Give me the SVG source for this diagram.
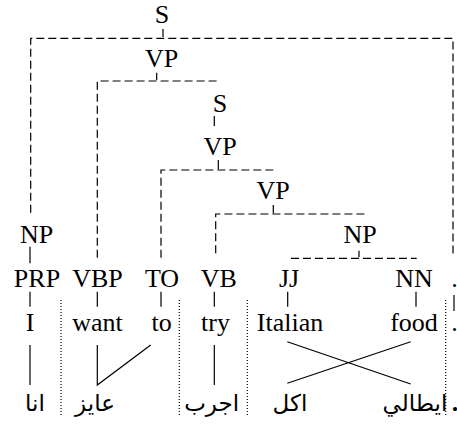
<svg xmlns="http://www.w3.org/2000/svg" width="457" height="426" viewBox="0 0 457 426">
<style>
.d{stroke:#000;stroke-width:1.2;fill:none;stroke-dasharray:8 4}
.s{stroke:#000;stroke-width:1.2;fill:none}
.o{stroke:#000;stroke-width:1.2;fill:none;stroke-dasharray:1 2}
.t{font-family:'Liberation Serif','Times New Roman',serif;font-size:26px;fill:#000;text-anchor:middle}
.ar{font-family:'DejaVu Sans',sans-serif;font-size:23px;fill:#000;text-anchor:middle}
</style>
<rect width="457" height="426" fill="#fff"/>
<g id="connectors">
<path class="s" d="M163 29V37M156.7 72.7V80M214.3 116V126M218.3 160V169.3M273.3 205V213.3M359 250.7V257.3M30 246.7V263.3"/>
<path class="d" d="M30.7 212.7V38.3H453V256"/>
<path class="d" d="M97.3 257.7V81H216.7"/>
<path class="d" d="M161 257.7V170H275"/>
<path class="d" d="M215.7 253.3V214H365"/>
<path class="d" d="M291 258.3H416.7"/>
<path class="s" d="M30 291.7V306.7M97.3 291.7V306.7M161 291.7V306.7M214.3 291.7V306.7M287.7 291.7V306.7M416 291.7V306.7M454 295V311"/>
<path class="s" d="M30 345V385M97.3 345V385L150.7 345M214.3 345V385M287.3 341.7L410.7 384M410.7 341.7L287.3 383.3"/>
<path class="o" d="M61 300V415M179.3 300V415M247.3 300V415M445.7 300V415"/>
</g>
<g id="n-S"><text class="t" x="162" y="23">S</text></g>
<g id="n-VP1"><text class="t" x="161.7" y="66.7">VP</text></g>
<g id="n-S2"><text class="t" x="220" y="111.7">S</text></g>
<g id="n-VP2"><text class="t" x="220" y="155">VP</text></g>
<g id="n-VP3"><text class="t" x="273" y="199.3">VP</text></g>
<g id="n-NP1"><text class="t" x="36.5" y="242.7">NP</text></g>
<g id="n-NP2"><text class="t" x="360" y="242.7">NP</text></g>
<g id="n-PRP"><text class="t" x="37" y="286.7">PRP</text></g>
<g id="n-VBP"><text class="t" x="97.5" y="286.7">VBP</text></g>
<g id="n-TO"><text class="t" x="162" y="286.7">TO</text></g>
<g id="n-VB"><text class="t" x="218.7" y="286.7">VB</text></g>
<g id="n-JJ"><text class="t" x="289" y="286.7">JJ</text></g>
<g id="n-NN"><text class="t" x="414" y="286.7">NN</text></g>
<g id="n-PUNC"><text class="t" x="454.5" y="286.7">.</text></g>
<g id="w-I"><text class="t" x="30" y="331">I</text></g>
<g id="w-want"><text class="t" x="97.5" y="331">want</text></g>
<g id="w-to"><text class="t" x="161.7" y="331">to</text></g>
<g id="w-try"><text class="t" x="215.5" y="331">try</text></g>
<g id="w-Italian"><text class="t" x="290" y="331">Italian</text></g>
<g id="w-food"><text class="t" x="414" y="331">food</text></g>
<g id="w-dot"><text class="t" x="454.5" y="331">.</text></g>
<g id="a-ana"><text class="ar" x="35" y="411">انا</text></g>
<g id="a-ayez"><text class="ar" x="95" y="411">عايز</text></g>
<g id="a-agarrab"><text class="ar" x="211.7" y="411">اجرب</text></g>
<g id="a-akl"><text class="ar" x="290" y="411">اكل</text></g>
<g id="a-itali"><text class="ar" x="415" y="411">ايطالي</text></g>
<g id="a-dot"><text class="t" x="455" y="411" font-weight="bold">.</text></g>
</svg>
